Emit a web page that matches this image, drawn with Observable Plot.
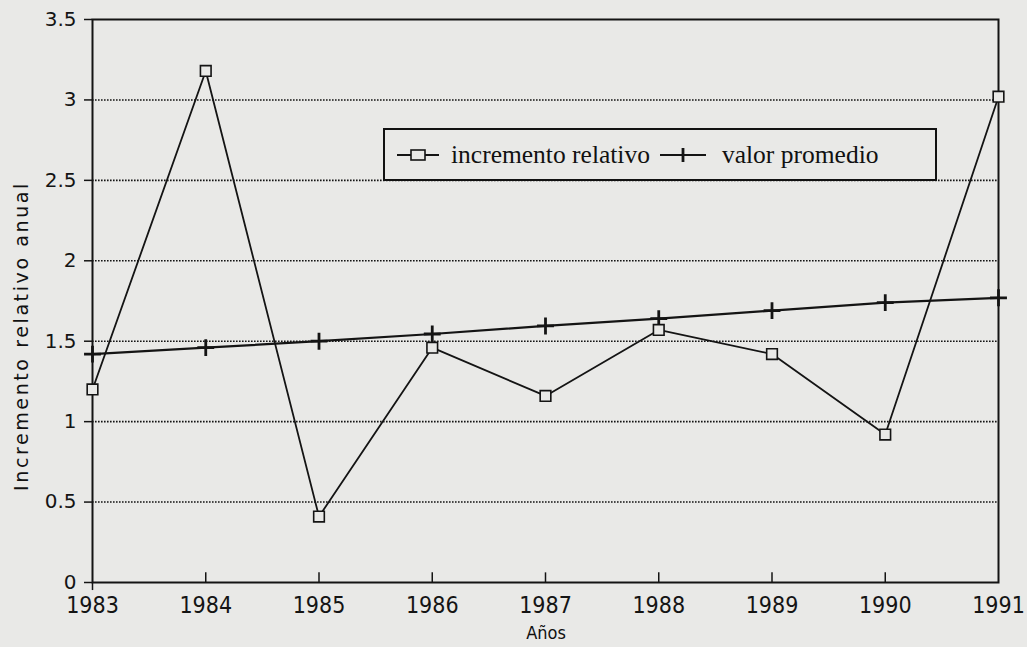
<!DOCTYPE html>
<html>
<head>
<meta charset="utf-8">
<script src="https://cdn.jsdelivr.net/npm/d3@7"></script>
<script src="https://cdn.jsdelivr.net/npm/@observablehq/plot@0.6"></script>
<style>
  html, body { margin: 0; padding: 0; background: #e9e9e7; }
  #wrap { position: relative; width: 1027px; height: 647px; overflow: hidden; }
  #legend {
    position: absolute; left: 383px; top: 128px; width: 550px; height: 49px;
    border: 2px solid #111; box-sizing: content-box;
    font-family: "Liberation Serif", "DejaVu Serif", serif; font-size: 25.5px; color: #111;
    display: flex; align-items: center; white-space: nowrap;
  }
  #legend svg { display: block; }
  #ylab {
    position: absolute; left: 21px; top: 336px; transform: translate(-50%, -50%) rotate(-90deg);
    font-family: "DejaVu Sans", sans-serif; font-size: 19px; letter-spacing: 2.6px; color: #111; white-space: nowrap;
  }
  #xlab {
    position: absolute; left: 546px; top: 622px; transform: translateX(-50%);
    font-family: "DejaVu Sans Condensed", "DejaVu Sans", sans-serif; font-size: 18px; color: #111;
  }
</style>
</head>
<body>
<div id="wrap"></div>
<script>
const years = [1983, 1984, 1985, 1986, 1987, 1988, 1989, 1990, 1991];
const incrementoRelativo = [1.20, 3.18, 0.41, 1.46, 1.16, 1.57, 1.42, 0.92, 3.02];
const valorPromedio = [1.42, 1.46, 1.50, 1.545, 1.595, 1.64, 1.69, 1.74, 1.77];
const yTicks = [0, 0.5, 1, 1.5, 2, 2.5, 3, 3.5];
const yTickLabels = ["0", "0.5", "1", "1.5", "2", "2.5", "3", "3.5"];
const seriesNames = ["incremento relativo", "valor promedio"];
const xTitle = "Años";
const yTitle = "Incremento relativo anual";

const incData = years.map((y, i) => ({year: y, value: incrementoRelativo[i]}));
const avgData = years.map((y, i) => ({year: y, value: valorPromedio[i]}));
const ink = "#141414";

const chart = Plot.plot({
  width: 1027,
  height: 647,
  marginLeft: 92,
  marginRight: 29,
  marginTop: 19,
  marginBottom: 65,
  style: {background: "transparent", color: ink},
  x: {domain: [1983, 1991], label: null},
  y: {domain: [0, 3.5], label: null},
  marks: [
    Plot.ruleY(yTicks.filter(v => v > 0 && v < 3.5), {stroke: ink, strokeWidth: 1.6, strokeDasharray: "1.6,1.4"}),
    Plot.frame({stroke: ink, strokeWidth: 2}),
    Plot.axisY({
      ticks: yTicks, tickSize: 8, tickPadding: 8,
      tickFormat: d => yTickLabels[yTicks.indexOf(d)],
      fontSize: 20, fontFamily: "DejaVu Sans, sans-serif", strokeWidth: 1.5, label: null
    }),
    Plot.ruleX(years.slice(1, -1), {y1: 0, y2: 0.06, stroke: ink, strokeWidth: 1.5}),
    Plot.ruleX([1983], {y1: 0, y2: -0.05, stroke: ink, strokeWidth: 1.5, clip: false}),
    Plot.axisX({
      ticks: years, tickSize: 0, tickPadding: 14,
      tickFormat: d => String(d),
      fontSize: 23, fontFamily: "DejaVu Sans Condensed, DejaVu Sans, sans-serif", label: null
    }),
    Plot.line(incData, {x: "year", y: "value", stroke: ink, strokeWidth: 1.8}),
    Plot.line(avgData, {x: "year", y: "value", stroke: ink, strokeWidth: 2.2}),
    Plot.dot(avgData, {x: "year", y: "value", symbol: "plus", r: 5.5, stroke: ink, strokeWidth: 2.8}),
    Plot.dot(incData, {x: "year", y: "value", symbol: "square", r: 6, fill: "#e9e9e7", stroke: ink, strokeWidth: 1.6})
  ]
});

const wrap = document.getElementById("wrap");
wrap.appendChild(chart);

const legend = document.createElement("div");
legend.id = "legend";
legend.innerHTML = `
  <svg width="56" height="20" style="margin-left:10px"><line x1="2" y1="10" x2="44" y2="10" stroke="${ink}" stroke-width="1.8"/><rect x="16" y="5" width="14" height="10" fill="#e9e9e7" stroke="${ink}" stroke-width="1.6"/></svg>
  <span>${seriesNames[0]}</span>
  <svg width="60" height="20" style="margin-left:8px"><line x1="2" y1="10" x2="48" y2="10" stroke="${ink}" stroke-width="2"/><line x1="25" y1="3" x2="25" y2="17" stroke="${ink}" stroke-width="2.8"/></svg>
  <span style="margin-left:4px">${seriesNames[1]}</span>`;
wrap.appendChild(legend);

const yl = document.createElement("div");
yl.id = "ylab"; yl.textContent = yTitle; wrap.appendChild(yl);
const xl = document.createElement("div");
xl.id = "xlab"; xl.textContent = xTitle; wrap.appendChild(xl);
</script>
</body>
</html>
